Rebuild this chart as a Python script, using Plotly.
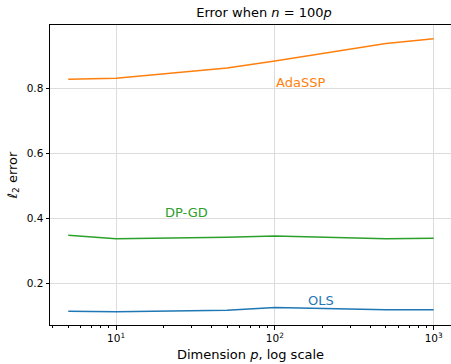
import numpy as np
import plotly.graph_objects as go

# Data
p_vals = [5, 10, 50, 100, 500, 1000]
adassp = [0.827, 0.830, 0.862, 0.883, 0.937, 0.952]
dpgd = [0.347, 0.336, 0.341, 0.345, 0.336, 0.338]
ols = [0.113, 0.112, 0.116, 0.125, 0.118, 0.118]

series = [
    ("AdaSSP", adassp, "#ff7f0e", 100, 0.800),
    ("DP-GD", dpgd, "#2ca02c", 20, 0.400),
    ("OLS", ols, "#1f77b4", 160, 0.128),
]

x_ticks = [10, 100, 1000]
x_ticktext = ["10<sup>1</sup>", "10<sup>2</sup>", "10<sup>3</sup>"]
y_ticks = [0.2, 0.4, 0.6, 0.8]
minor_vals = [d * 10 ** e for e in range(0, 4) for d in range(2, 10)]

FONT = "DejaVu Sans"

fig = go.Figure()
for name, vals, color, lx, ly in series:
    fig.add_trace(go.Scatter(x=p_vals, y=vals, mode="lines", name=name,
                             line=dict(color=color, width=1.5)))
    fig.add_annotation(x=np.log10(lx), y=ly, xref="x", yref="y", text=name,
                       showarrow=False, xanchor="left", yanchor="bottom",
                       xshift=-1, yshift=-4,
                       font=dict(family=FONT, size=13, color=color))

fig.update_layout(
    width=451, height=364,
    margin=dict(l=50, r=0, t=25, b=39),
    paper_bgcolor="white", plot_bgcolor="white",
    showlegend=False,
    font=dict(family=FONT, color="black"),
    title=dict(text="Error when <i>n</i> = 100<i>p</i>", x=0.5 * (50 + 451) / 451 + 0.03,
               xanchor="center", y=1 - 12 / 364, yanchor="middle",
               font=dict(family=FONT, size=13, color="black")),
)

fig.update_xaxes(
    type="log", range=[0.584, 3.109],
    tickvals=x_ticks, ticktext=x_ticktext,
    tickfont=dict(family=FONT, size=10.5, color="black"),
    ticks="outside", ticklen=3.5, tickwidth=1, tickcolor="black",
    showline=True, linecolor="black", linewidth=1, mirror=True,
    showgrid=True, gridcolor="#dcdcdc", gridwidth=1,
    zeroline=False,
    minor=dict(tickvals=minor_vals, ticks="outside", ticklen=2, tickwidth=0.8,
               tickcolor="black", showgrid=False),
    title=dict(text="Dimension <i>p</i>, log scale", standoff=6,
               font=dict(family=FONT, size=13, color="black")),
)

fig.update_yaxes(
    range=[0.071, 0.994],
    tickvals=y_ticks, tickformat=".1f",
    tickfont=dict(family=FONT, size=10.5, color="black"),
    ticks="outside", ticklen=3.5, tickwidth=1, tickcolor="black",
    showline=True, linecolor="black", linewidth=1, mirror=False,
    showgrid=True, gridcolor="#dcdcdc", gridwidth=1,
    zeroline=False,
    title=dict(text="<i>ℓ</i><sub>2</sub> error", standoff=6,
               font=dict(family=FONT, size=13, color="black")),
)

fig.write_html("out.html")
